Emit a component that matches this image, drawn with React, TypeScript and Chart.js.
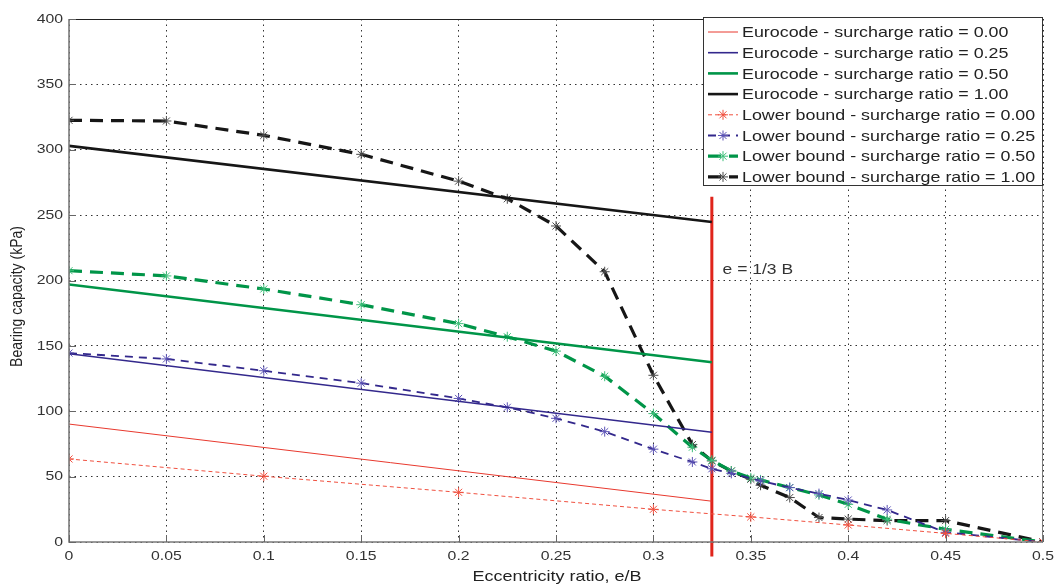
import { useEffect, useRef } from "react";
import { Chart, registerables } from "chart.js";

Chart.register(...registerables);

// ---------- data ----------
const eurocodeX = [0, 0.33];
const eurocode000 = [90.2, 31.2];
const eurocode025 = [144, 84];
const eurocode050 = [197, 137.5];
const eurocode100 = [303, 244.7];

const lowerX000 = [0, 0.1, 0.2, 0.3, 0.35, 0.4, 0.45, 0.5];
const lower000 = [63.5, 50.3, 38, 25, 19.2, 13, 6.6, 0];

const lowerX025 = [0, 0.05, 0.1, 0.15, 0.2, 0.225, 0.25, 0.275, 0.3, 0.32, 0.33, 0.34, 0.355, 0.37, 0.385, 0.4, 0.42, 0.45, 0.5];
const lower025 = [144.5, 140, 131, 121.5, 109.8, 103, 94.6, 84.4, 71, 61.2, 56, 52.5, 46.7, 41.6, 37, 32.1, 24.5, 7.4, 0];

const lowerX = [0, 0.05, 0.1, 0.15, 0.2, 0.225, 0.25, 0.275, 0.3, 0.32, 0.33, 0.34, 0.35, 0.355, 0.37, 0.385, 0.4, 0.42, 0.45, 0.5];
const lower050 = [207.5, 203.5, 193.5, 181.5, 167, 157, 146, 126.8, 98.2, 72.5, 62.5, 54.3, 49, 47.5, 41.6, 36, 28.8, 17.4, 9.7, 0];
const lower100 = [322.5, 322, 311, 296.5, 276, 262.5, 241.7, 206.7, 127.5, 74.5, 62, 54.3, 48, 43.4, 34, 18.7, 17.5, 16.4, 16.4, 0];

const limitX = [0.33, 0.33];
const limitY = [264, -11];
const limitLabel = "e = 1/3 B";
const limitLabelPos = { x: 0.3355, y: 205 };

const xTickLabels = ["0", "0.05", "0.1", "0.15", "0.2", "0.25", "0.3", "0.35", "0.4", "0.45", "0.5"];
const yTickLabels = ["0", "50", "100", "150", "200", "250", "300", "350", "400"];
const xTitle = "Eccentricity ratio, e/B";
const yTitle = "Bearing capacity (kPa)";

const seriesLabels = [
  "Eurocode - surcharge ratio = 0.00",
  "Eurocode - surcharge ratio = 0.25",
  "Eurocode - surcharge ratio = 0.50",
  "Eurocode - surcharge ratio = 1.00",
  "Lower bound - surcharge ratio = 0.00",
  "Lower bound - surcharge ratio = 0.25",
  "Lower bound - surcharge ratio = 0.50",
  "Lower bound - surcharge ratio = 1.00",
];

// ---------- styles ----------
const RED = "#e8392e";
const RED_M = "#f0503f";
const BLUE = "#33288c";
const BLUE_M = "#5b52b5";
const GREEN = "#009548";
const GREEN_M = "#3fbf7a";
const BLACK = "#161616";
const BLACK_M = "#4a4a4a";
const FONT = '"Liberation Sans", Arial, Helvetica, sans-serif';

const mk = (xs: number[], ys: number[]) => xs.map((x, i) => ({ x, y: ys[i] }));

function drawStretched(ctx: CanvasRenderingContext2D, text: string, x: number, y: number, sx: number, align: CanvasTextAlign, baseline: CanvasTextBaseline) {
  ctx.save();
  ctx.translate(x, y);
  ctx.scale(sx, 1);
  ctx.textAlign = align;
  ctx.textBaseline = baseline;
  ctx.fillText(text, 0, 0);
  ctx.restore();
}

function drawStar(ctx: CanvasRenderingContext2D, x: number, y: number, r: number, color: string) {
  ctx.save();
  ctx.strokeStyle = color;
  ctx.lineWidth = 1;
  ctx.setLineDash([]);
  ctx.beginPath();
  for (let k = 0; k < 4; k++) {
    const a = (k * Math.PI) / 4;
    ctx.moveTo(x - r * Math.cos(a), y - r * Math.sin(a));
    ctx.lineTo(x + r * Math.cos(a), y + r * Math.sin(a));
  }
  ctx.stroke();
  ctx.restore();
}

const decorPlugin = {
  id: "decor",
  afterDatasetsDraw(chart: any) {
    const ctx: CanvasRenderingContext2D = chart.ctx;
    const { left, right, top, bottom } = chart.chartArea;
    const xs = chart.scales.x;
    const ys = chart.scales.y;

    // axes box
    ctx.save();
    ctx.setLineDash([]);
    ctx.strokeStyle = "#222";
    ctx.lineWidth = 1;
    ctx.beginPath();
    ctx.moveTo(left, top + 0.5);
    ctx.lineTo(right, top + 0.5);
    ctx.stroke();
    ctx.strokeStyle = "#7a7a7a";
    ctx.beginPath();
    ctx.moveTo(right - 0.5, top);
    ctx.lineTo(right - 0.5, bottom);
    ctx.stroke();
    ctx.lineWidth = 1.6;
    ctx.beginPath();
    ctx.moveTo(left, top);
    ctx.lineTo(left, bottom);
    ctx.lineTo(right, bottom);
    ctx.stroke();

    // inward ticks
    ctx.lineWidth = 1;
    ctx.strokeStyle = "#666";
    ctx.beginPath();
    xTickLabels.forEach((t) => {
      const px = Math.round(xs.getPixelForValue(parseFloat(t))) + 0.5;
      ctx.moveTo(px, bottom);
      ctx.lineTo(px, bottom - 7);
    });
    yTickLabels.forEach((t) => {
      const py = Math.round(ys.getPixelForValue(parseFloat(t))) + 0.5;
      ctx.moveTo(left, py);
      ctx.lineTo(left + 7, py);
    });
    ctx.stroke();

    // tick labels
    ctx.fillStyle = "#333";
    ctx.font = `13.5px ${FONT}`;
    xTickLabels.forEach((t) => {
      drawStretched(ctx, t, xs.getPixelForValue(parseFloat(t)), bottom + 14, 1.17, "center", "middle");
    });
    yTickLabels.forEach((t) => {
      drawStretched(ctx, t, left - 6, ys.getPixelForValue(parseFloat(t)), 1.17, "right", "middle");
    });

    // axis titles
    ctx.fillStyle = "#222";
    ctx.font = `15px ${FONT}`;
    drawStretched(ctx, xTitle, (left + right) / 2 + 1, 581, 1.2, "center", "alphabetic");
    ctx.save();
    ctx.translate(18, (top + bottom) / 2 + 16);
    ctx.rotate(-Math.PI / 2);
    ctx.scale(1, 1.15);
    ctx.font = `14px ${FONT}`;
    ctx.textAlign = "center";
    ctx.textBaseline = "middle";
    ctx.fillText(yTitle, 0, 0);
    ctx.restore();

    // limit label
    ctx.font = `14px ${FONT}`;
    ctx.fillStyle = "#333";
    drawStretched(ctx, limitLabel, xs.getPixelForValue(limitLabelPos.x), ys.getPixelForValue(limitLabelPos.y), 1.25, "left", "alphabetic");

    // legend
    const bx = 703, by = 17, bw = 340, bh = 169;
    ctx.fillStyle = "#fff";
    ctx.fillRect(bx, by, bw, bh);
    ctx.strokeStyle = "#333";
    ctx.lineWidth = 1;
    ctx.strokeRect(bx + 0.5, by + 0.5, bw - 1, bh - 1);
    const dsets = chart.data.datasets;
    ctx.font = `15px ${FONT}`;
    seriesLabels.forEach((lab, i) => {
      const ds = dsets[i];
      const y = by + 15 + i * 20.7;
      ctx.save();
      ctx.strokeStyle = ds.borderColor;
      ctx.lineWidth = ds.borderWidth;
      ctx.setLineDash(ds.borderDash || []);
      ctx.beginPath();
      ctx.moveTo(708, y);
      ctx.lineTo(738, y);
      ctx.stroke();
      ctx.restore();
      if (ds.pointRadius > 0) drawStar(ctx, 723, y, 5, ds.pointBorderColor);
      ctx.fillStyle = "#222";
      drawStretched(ctx, lab, 742, y + 1, 1.19, "left", "middle");
    });
    ctx.restore();
  },
};

export default function App() {
  const ref = useRef<HTMLCanvasElement | null>(null);

  useEffect(() => {
    document.body.style.margin = "0";
    const canvas = ref.current!;
    const lb = (data: any, color: string, mcolor: string, width: number, dash: number[]) => ({
      data,
      borderColor: color,
      borderWidth: width,
      borderDash: dash,
      pointStyle: "star",
      pointRadius: 5,
      pointBorderColor: mcolor,
      pointBackgroundColor: mcolor,
      pointBorderWidth: 1,
      tension: 0,
    });
    const ec = (data: any, color: string, width: number) => ({
      data,
      borderColor: color,
      borderWidth: width,
      pointRadius: 0,
      tension: 0,
    });
    const chart = new Chart(canvas, {
      type: "line",
      data: {
        datasets: [
          { label: seriesLabels[0], ...ec(mk(eurocodeX, eurocode000), RED, 1) },
          { label: seriesLabels[1], ...ec(mk(eurocodeX, eurocode025), BLUE, 1.6) },
          { label: seriesLabels[2], ...ec(mk(eurocodeX, eurocode050), GREEN, 2.6) },
          { label: seriesLabels[3], ...ec(mk(eurocodeX, eurocode100), BLACK, 2.6) },
          { label: seriesLabels[4], ...lb(mk(lowerX000, lower000), RED_M, RED_M, 1, [4, 3]) },
          { label: seriesLabels[5], ...lb(mk(lowerX025, lower025), BLUE, BLUE_M, 1.8, [8, 6]) },
          { label: seriesLabels[6], ...lb(mk(lowerX, lower050), GREEN, GREEN_M, 3.2, [13, 8]) },
          { label: seriesLabels[7], ...lb(mk(lowerX, lower100), BLACK, BLACK_M, 3.2, [13, 8]) },
          { label: "limit", data: mk(limitX, limitY), borderColor: "#e0241b", borderWidth: 3, pointRadius: 0, clip: false as any },
        ] as any,
      },
      options: {
        animation: false,
        responsive: false,
        events: [],
        layout: { padding: { left: 0, right: 11, top: 19, bottom: 0 } },
        plugins: { legend: { display: false }, tooltip: { enabled: false } },
        scales: {
          x: {
            type: "linear",
            min: 0,
            max: 0.5,
            ticks: { display: false, stepSize: 0.05 },
            grid: { color: "#333", lineWidth: 1, drawTicks: false },
            border: { display: false, dash: [1.5, 4] },
            afterFit: (s: any) => { s.height = 44; },
          },
          y: {
            min: 0,
            max: 400,
            ticks: { display: false, stepSize: 50 },
            grid: { color: "#333", lineWidth: 1, drawTicks: false },
            border: { display: false, dash: [1.5, 4] },
            afterFit: (s: any) => { s.width = 69; },
          },
        },
      },
      plugins: [decorPlugin],
    });
    return () => chart.destroy();
  }, []);

  return (
    <div style={{ position: "absolute", left: 0, top: 0, width: 1054, height: 586, background: "#fff" }}>
      <canvas ref={ref} width={1054} height={586} style={{ display: "block" }} />
    </div>
  );
}
